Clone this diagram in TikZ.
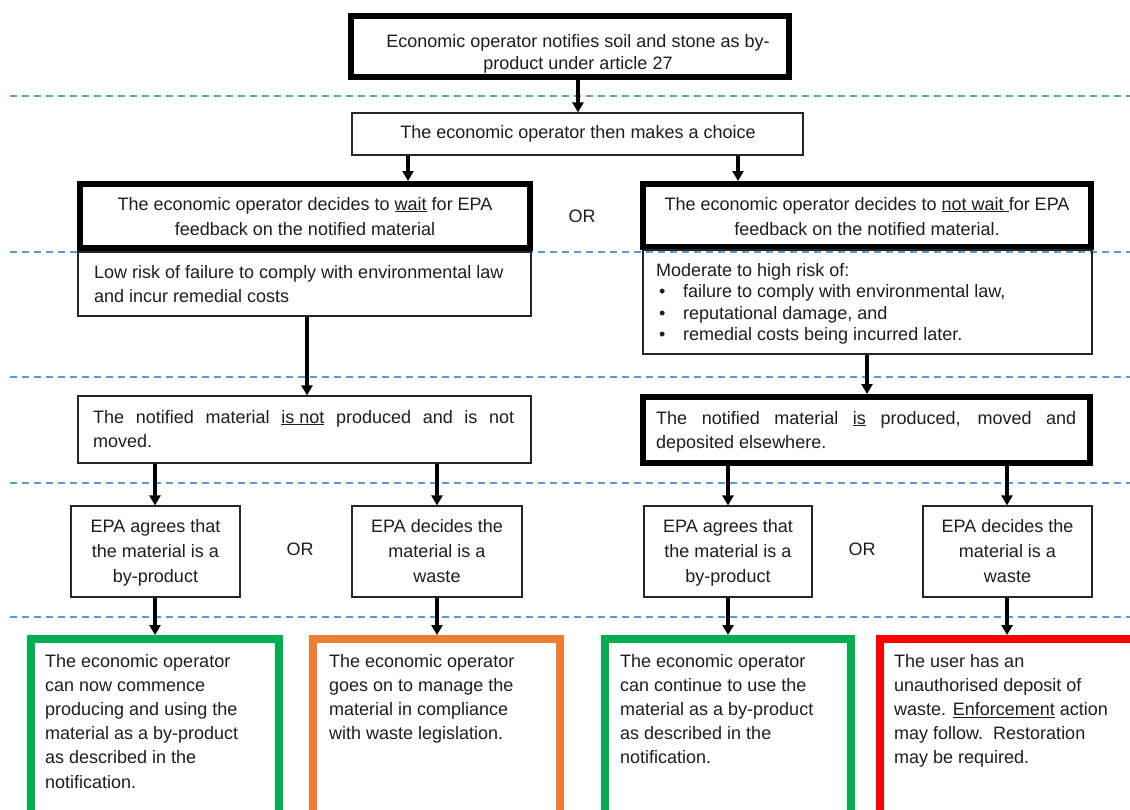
\documentclass[tikz,border=0pt]{standalone}
\usepackage{fontspec}
\setmainfont{Liberation Sans}
\usetikzlibrary{arrows.meta}
\definecolor{dashblue}{RGB}{91,155,213}
\definecolor{okgreen}{RGB}{0,176,80}
\definecolor{warnorange}{RGB}{237,125,49}
\definecolor{badred}{RGB}{255,0,0}
\definecolor{inkgray}{RGB}{30,30,30}
\newcommand{\tbx}[3]{\parbox[t]{#1}{\fontsize{18pt}{#2}\selectfont #3}}
\begin{document}
\begin{tikzpicture}[x=1pt,y=-1pt,
  thinbox/.style={draw=black!85, line width=1.2pt, inner sep=0pt},
  thickbox/.style={draw=black, line width=6pt, inner sep=0pt},
  colbox/.style={draw=#1, line width=8pt, inner sep=0pt},
  txt/.style={inner sep=0pt, anchor=base, text=inkgray},
  ltxt/.style={inner sep=0pt, anchor=base west, text=inkgray},
  arr/.style={line width=3.2pt, -{Triangle[width=11pt,length=10pt]}},
  sepline/.style={dashblue, line width=1.3pt, dash pattern=on 7pt off 5pt},
]
\fill[white] (0,0) rectangle (1130,809);
\clip (0,0) rectangle (1130,809);

% separators
\draw[sepline] (10,96) -- (1130,96);
\draw[sepline] (10,252) -- (1130,252);
\draw[sepline] (10,377) -- (1130,377);
\draw[sepline] (10,483) -- (1130,483);
\draw[sepline] (10,617) -- (1130,617);

% boxes
\node[thickbox, minimum width=438pt, minimum height=61pt] (top) at (570,46.5) {};
\node[thinbox, minimum width=451pt, minimum height=42pt] (choice) at (577.5,134) {};
\node[thickbox, minimum width=450pt, minimum height=64pt] (wait) at (305,216) {};
\node[thickbox, minimum width=448pt, minimum height=63pt] (nowait) at (867,215.5) {};
\node[thinbox, minimum width=453pt, minimum height=64pt] (low) at (304.5,284) {};
\node[thinbox, minimum width=449pt, minimum height=104pt] (mod) at (867.5,302) {};
\node[thinbox, minimum width=453pt, minimum height=67pt] (notprod) at (304.5,429.5) {};
\node[thickbox, minimum width=447pt, minimum height=66pt] (prod) at (866.5,430) {};
\node[thinbox, minimum width=169pt, minimum height=91pt] (epa1) at (155.5,551.5) {};
\node[thinbox, minimum width=170pt, minimum height=91pt] (epa2) at (437,551.5) {};
\node[thinbox, minimum width=168pt, minimum height=91pt] (epa3) at (728,551.5) {};
\node[thinbox, minimum width=169pt, minimum height=91pt] (epa4) at (1007.5,551.5) {};
\node[colbox=okgreen, minimum width=248pt, minimum height=221pt] (res1) at (155,749.5) {};
\node[colbox=warnorange, minimum width=247pt, minimum height=221pt] (res2) at (436.5,749.5) {};
\node[colbox=okgreen, minimum width=246pt, minimum height=221pt] (res3) at (728,749.5) {};
\node[colbox=badred, minimum width=280pt, minimum height=221pt] (res4) at (1020,749.5) {};

% texts
\node[txt] (toptxt) at (578,47) {\tbx{440pt}{22pt}{\centering Economic operator notifies soil and stone as by-\\product under article 27}};
\node[txt] (choicetxt) at (578,138) {\tbx{440pt}{22pt}{\centering The economic operator then makes a choice}};
\node[txt] (waittxt) at (305,210) {\tbx{440pt}{25pt}{\centering The economic operator decides to \underline{wait} for EPA\\feedback on the notified material}};
\node[txt] (nowaittxt) at (867,210) {\tbx{440pt}{25pt}{\centering The economic operator decides to \underline{not wait\ }for EPA\\feedback on the notified material.}};
\node[txt] (ortxt1) at (582,222) {\tbx{40pt}{22pt}{\centering OR}};
\node[ltxt] (lowtxt) at (94,278) {\tbx{440pt}{24pt}{\raggedright Low risk of failure to comply with environmental law\\and incur remedial costs}};
\node[ltxt] (modtxt) at (656,276) {\tbx{430pt}{21.5pt}{\raggedright Moderate to high risk of:\\
\hspace*{3pt}\makebox[24pt][l]{\textbullet}failure to comply with environmental law,\\
\hspace*{3pt}\makebox[24pt][l]{\textbullet}reputational damage, and\\
\hspace*{3pt}\makebox[24pt][l]{\textbullet}remedial costs being incurred later.}};
\node[ltxt] (notprodtxt) at (93,423) {\tbx{421pt}{24pt}{\raggedright\makebox[421pt][s]{The notified material \underline{is not} produced and is not}\\moved.}};
\node[ltxt] (prodtxt) at (656,424) {\tbx{420pt}{24pt}{\raggedright\makebox[420pt][s]{The notified material \underline{is} produced, moved and}\\deposited elsewhere.}};
\node[txt] (epatxt1) at (155.5,532) {\tbx{165pt}{25pt}{\centering EPA agrees that\\the material is a\\by-product}};
\node[txt] (epatxt2) at (437,532) {\tbx{165pt}{25pt}{\centering EPA decides the\\material is a\\waste}};
\node[txt] (epatxt3) at (728,532) {\tbx{165pt}{25pt}{\centering EPA agrees that\\the material is a\\by-product}};
\node[txt] (epatxt4) at (1007.5,532) {\tbx{165pt}{25pt}{\centering EPA decides the\\material is a\\waste}};
\node[txt] (ortxt2) at (300,555) {\tbx{40pt}{22pt}{\centering OR}};
\node[txt] (ortxt3) at (862,555) {\tbx{40pt}{22pt}{\centering OR}};
\node[ltxt] (restxt1) at (45,667) {\tbx{240pt}{24.2pt}{\raggedright The economic operator\\can now commence\\producing and using the\\material as a by-product\\as described in the\\notification.}};
\node[ltxt] (restxt2) at (329,667) {\tbx{240pt}{24.2pt}{\raggedright The economic operator\\goes on to manage the\\material in compliance\\with waste legislation.}};
\node[ltxt] (restxt3) at (620,667) {\tbx{240pt}{24.2pt}{\raggedright The economic operator\\can continue to use the\\material as a by-product\\as described in the\\notification.}};
\node[ltxt] (restxt4) at (894,667) {\tbx{240pt}{24.2pt}{\raggedright The user has an\\unauthorised deposit of\\waste. \underline{Enforcement} action\\may follow.~~Restoration\\may be required.}};

% arrow columns
\coordinate (cT) at (578,0);
\coordinate (cA) at (408,0);
\coordinate (cB) at (738,0);
\coordinate (cC) at (307,0);
\coordinate (cD) at (867,0);
\coordinate (c1) at (155,0);
\coordinate (c2) at (437,0);
\coordinate (c3) at (728,0);
\coordinate (c4) at (1007,0);

% arrows
\draw[arr] (top.south -| cT) -- (choice.north -| cT);
\draw[arr] (choice.south -| cA) -- (wait.north -| cA);
\draw[arr] (choice.south -| cB) -- (nowait.north -| cB);
\draw[arr] (low.south -| cC) -- (notprod.north -| cC);
\draw[arr] (mod.south -| cD) -- (prod.north -| cD);
\draw[arr] (notprod.south -| c1) -- (epa1.north -| c1);
\draw[arr] (notprod.south -| c2) -- (epa2.north -| c2);
\draw[arr] (prod.south -| c3) -- (epa3.north -| c3);
\draw[arr] (prod.south -| c4) -- (epa4.north -| c4);
\draw[arr] (epa1.south -| c1) -- (res1.north -| c1);
\draw[arr] (epa2.south -| c2) -- (res2.north -| c2);
\draw[arr] (epa3.south -| c3) -- (res3.north -| c3);
\draw[arr] (epa4.south -| c4) -- (res4.north -| c4);
\end{tikzpicture}
\end{document}
